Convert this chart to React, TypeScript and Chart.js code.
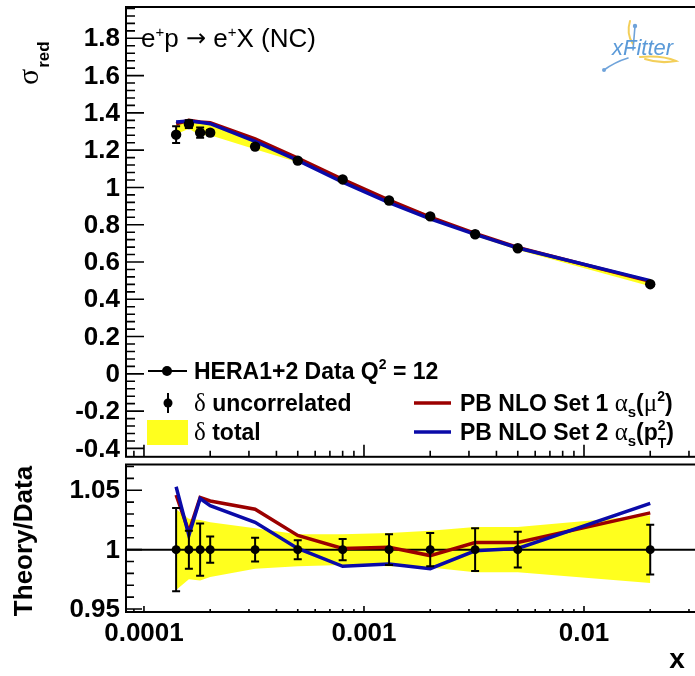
import React, { useEffect, useRef } from "react";
import { Chart, registerables } from "chart.js";

Chart.register(...registerables);

// ---------------- data ----------------
const xBins = [0.00014, 0.00016, 0.00018, 0.0002, 0.00032, 0.0005, 0.0008, 0.0013, 0.002, 0.0032, 0.005, 0.02];
const sigmaData = [1.283, 1.34, 1.294, 1.294, 1.219, 1.144, 1.043, 0.93, 0.845, 0.749, 0.674, 0.481];
const sigmaUncorr = [0.045, 0.021, 0.028, 0.014, 0.012, 0.009, 0.009, 0.012, 0.012, 0.013, 0.01, 0.01];
const sigmaTotalLow = [1.285, 1.315, 1.28, 1.28, 1.205, 1.135, 1.035, 0.92, 0.835, 0.74, 0.665, 0.47];
const sigmaTotalHigh = [1.34, 1.355, 1.345, 1.34, 1.255, 1.155, 1.05, 0.935, 0.85, 0.755, 0.68, 0.495];
const pbSet1 = [1.342, 1.36, 1.351, 1.347, 1.26, 1.158, 1.044, 0.932, 0.841, 0.753, 0.678, 0.496];
const pbSet2 = [1.351, 1.356, 1.35, 1.342, 1.247, 1.145, 1.028, 0.919, 0.831, 0.748, 0.675, 0.5];

const ratioData = [1, 1, 1, 1, 1, 1, 1, 1, 1, 1, 1, 1];
const ratioUncorr = [0.035, 0.016, 0.022, 0.011, 0.01, 0.008, 0.009, 0.013, 0.014, 0.018, 0.015, 0.021];
const ratioTotalLow = [0.966, 0.975, 0.974, 0.977, 0.984, 0.986, 0.987, 0.986, 0.985, 0.981, 0.981, 0.972];
const ratioTotalHigh = [1.034, 1.026, 1.025, 1.023, 1.018, 1.013, 1.013, 1.014, 1.016, 1.019, 1.019, 1.029];
const ratioSet1 = [1.046, 1.015, 1.044, 1.041, 1.034, 1.012, 1.001, 1.002, 0.995, 1.006, 1.006, 1.031];
const ratioSet2 = [1.053, 1.012, 1.043, 1.037, 1.023, 1.001, 0.986, 0.988, 0.984, 0.999, 1.001, 1.039];

const sigmaTicks = [-0.4, -0.2, 0, 0.2, 0.4, 0.6, 0.8, 1, 1.2, 1.4, 1.6, 1.8];
const sigmaTickLabels = ["-0.4", "-0.2", "0", "0.2", "0.4", "0.6", "0.8", "1", "1.2", "1.4", "1.6", "1.8"];
const ratioTicks = [0.95, 1, 1.05];
const ratioTickLabels = ["0.95", "1", "1.05"];
const xTicks = [0.0001, 0.001, 0.01];
const xTickLabels = ["0.0001", "0.001", "0.01"];

// ---------------- style ----------------
const YELLOW = "#ffff1e";
const RED = "#9b0000";
const BLUE = "#0a0aa8";
const SANS = '"Liberation Sans", Arial, Helvetica, sans-serif';
const SERIF = '"Liberation Serif", "Times New Roman", serif';

const X_MIN = 8.286e-5;
const X_MAX = 0.03367;

type Part = { t: string; f: string; dy?: number; noAdvance?: boolean };
function drawParts(ctx: CanvasRenderingContext2D, x: number, y: number, parts: Part[]) {
  let cx = x;
  for (const p of parts) {
    ctx.font = p.f;
    ctx.fillText(p.t, cx, y + (p.dy || 0));
    if (!p.noAdvance) cx += ctx.measureText(p.t).width;
  }
  return cx;
}

const pts = (ys: number[]) => xBins.map((x, i) => ({ x, y: ys[i] }));

function errorBarPlugin(ys: number[], errs: number[], cap: number) {
  return {
    id: "errorBars",
    afterDatasetsDraw(chart: any) {
      const { ctx } = chart;
      const xs = chart.scales.x;
      const y = chart.scales.y;
      ctx.save();
      ctx.strokeStyle = "#000";
      ctx.lineWidth = 2;
      ctx.beginPath();
      xBins.forEach((xv, i) => {
        const px = xs.getPixelForValue(xv);
        const yt = y.getPixelForValue(ys[i] + errs[i]);
        const yb = y.getPixelForValue(ys[i] - errs[i]);
        ctx.moveTo(px, yt);
        ctx.lineTo(px, yb);
        ctx.moveTo(px - cap, yt);
        ctx.lineTo(px + cap, yt);
        ctx.moveTo(px - cap, yb);
        ctx.lineTo(px + cap, yb);
      });
      ctx.stroke();
      ctx.restore();
    },
  };
}

type FrameOpts = {
  yMaj: number[];
  yLab: string[];
  yMinFrom: number;
  yMinStep: number;
  yMinN: number;
  yMajLen: number;
  yMinLen: number;
  xMajLen: number;
  xMinLen: number;
  extra?: (chart: any) => void;
};

function framePlugin(o: FrameOpts) {
  return {
    id: "rootFrame",
    afterDraw(chart: any) {
      const { ctx, chartArea: a } = chart;
      const xs = chart.scales.x;
      const ys = chart.scales.y;
      ctx.save();
      ctx.strokeStyle = "#000";
      ctx.lineWidth = 1.6;
      ctx.beginPath();
      for (let k = 0; k <= o.yMinN; k++) {
        const v = o.yMinFrom + k * o.yMinStep;
        const py = ys.getPixelForValue(v);
        if (py < a.top + 1 || py > a.bottom - 1) continue;
        const major = o.yMaj.some((m) => Math.abs(m - v) < 1e-6);
        ctx.moveTo(a.left, py);
        ctx.lineTo(a.left + (major ? o.yMajLen : o.yMinLen), py);
      }
      for (let d = -5; d <= -1; d++) {
        for (let m = 1; m <= 9; m++) {
          const v = m * Math.pow(10, d);
          const px = xs.getPixelForValue(v);
          if (px < a.left + 1 || px > a.right - 1) continue;
          ctx.moveTo(px, a.bottom);
          ctx.lineTo(px, a.bottom - (m === 1 ? o.xMajLen : o.xMinLen));
        }
      }
      ctx.stroke();
      ctx.lineWidth = 2;
      ctx.strokeRect(a.left, a.top, a.right - a.left, a.bottom - a.top);
      ctx.fillStyle = "#000";
      ctx.font = `bold 26px ${SANS}`;
      ctx.textAlign = "right";
      ctx.textBaseline = "middle";
      o.yMaj.forEach((v, i) => ctx.fillText(o.yLab[i], a.left - 6, ys.getPixelForValue(v) + 1));
      ctx.textAlign = "left";
      ctx.textBaseline = "alphabetic";
      if (o.extra) o.extra(chart);
      ctx.restore();
    },
  };
}

function topExtras(chart: any) {
  const ctx: CanvasRenderingContext2D = chart.ctx;
  ctx.fillStyle = "#000";
  // y-axis title sigma_red
  ctx.save();
  ctx.translate(38, 85);
  ctx.rotate(-Math.PI / 2);
  ctx.font = `30px ${SERIF}`;
  ctx.fillText("σ", 0, 0);
  const w = ctx.measureText("σ").width;
  ctx.font = `bold 17px ${SANS}`;
  ctx.fillText("red", w + 1, 11);
  ctx.restore();

  // process label
  drawParts(ctx, 141, 47, [
    { t: "e", f: `26px ${SANS}` },
    { t: "+", f: `15px ${SANS}`, dy: -10 },
    { t: "p ", f: `26px ${SANS}` },
    { t: "→", f: `24px "DejaVu Sans", sans-serif`, dy: -1 },
    { t: " e", f: `26px ${SANS}` },
    { t: "+", f: `15px ${SANS}`, dy: -10 },
    { t: "X (NC)", f: `26px ${SANS}` },
  ]);

  // xFitter logo
  ctx.save();
  ctx.lineCap = "round";
  ctx.strokeStyle = "#f3cf5a";
  ctx.lineWidth = 2;
  ctx.beginPath();
  ctx.moveTo(630, 21);
  ctx.quadraticCurveTo(626, 34, 633, 44);
  ctx.moveTo(640, 57);
  ctx.quadraticCurveTo(662, 55, 676, 61);
  ctx.quadraticCurveTo(660, 64, 645, 59);
  ctx.stroke();
  ctx.strokeStyle = "#6fa3da";
  ctx.lineWidth = 1.6;
  ctx.beginPath();
  ctx.moveTo(635, 26);
  ctx.lineTo(633, 50);
  ctx.moveTo(628, 58);
  ctx.quadraticCurveTo(615, 62, 604, 70);
  ctx.stroke();
  ctx.fillStyle = "#6fa3da";
  ctx.beginPath();
  ctx.arc(635, 26, 2.2, 0, Math.PI * 2);
  ctx.arc(604, 70, 2, 0, Math.PI * 2);
  ctx.fill();
  ctx.font = `italic 22px ${SANS}`;
  ctx.fillStyle = "#5b9ad8";
  ctx.fillText("xFitter", 612, 55);
  ctx.restore();

  // legend
  ctx.fillStyle = "#000";
  ctx.strokeStyle = "#000";
  ctx.lineWidth = 2;
  ctx.beginPath();
  ctx.moveTo(148, 371);
  ctx.lineTo(187, 371);
  ctx.moveTo(168, 393);
  ctx.lineTo(168, 413);
  ctx.stroke();
  ctx.beginPath();
  ctx.arc(167, 371, 5, 0, Math.PI * 2);
  ctx.fill();
  ctx.beginPath();
  ctx.arc(168, 403, 4.5, 0, Math.PI * 2);
  ctx.fill();
  ctx.fillStyle = YELLOW;
  ctx.fillRect(147, 420, 41, 25);
  ctx.lineWidth = 3.5;
  ctx.strokeStyle = RED;
  ctx.beginPath();
  ctx.moveTo(414, 403);
  ctx.lineTo(451, 403);
  ctx.stroke();
  ctx.strokeStyle = BLUE;
  ctx.beginPath();
  ctx.moveTo(414, 432);
  ctx.lineTo(451, 432);
  ctx.stroke();

  ctx.fillStyle = "#000";
  const B = `bold 23px ${SANS}`;
  const G = `25px ${SERIF}`;
  const SUP = `bold 14px ${SANS}`;
  drawParts(ctx, 194, 379, [
    { t: "HERA1+2 Data Q", f: B },
    { t: "2", f: SUP, dy: -10 },
    { t: " = 12", f: B },
  ]);
  drawParts(ctx, 194, 411, [
    { t: "δ", f: G },
    { t: " uncorrelated", f: B },
  ]);
  drawParts(ctx, 194, 440, [
    { t: "δ", f: G },
    { t: " total", f: B },
  ]);
  drawParts(ctx, 460, 411, [
    { t: "PB NLO Set 1 ", f: B },
    { t: "α", f: G },
    { t: "s", f: `bold 15px ${SANS}`, dy: 6 },
    { t: "(", f: B },
    { t: "μ", f: G },
    { t: "2", f: SUP, dy: -10 },
    { t: ")", f: B },
  ]);
  drawParts(ctx, 460, 440, [
    { t: "PB NLO Set 2 ", f: B },
    { t: "α", f: G },
    { t: "s", f: `bold 15px ${SANS}`, dy: 6 },
    { t: "(p", f: B },
    { t: "2", f: SUP, dy: -10, noAdvance: true },
    { t: "T", f: SUP, dy: 8 },
    { t: ")", f: B },
  ]);
}

function bottomExtras(chart: any) {
  const ctx: CanvasRenderingContext2D = chart.ctx;
  const xs = chart.scales.x;
  ctx.fillStyle = "#000";
  ctx.font = `bold 26px ${SANS}`;
  ctx.textAlign = "center";
  xTicks.forEach((v, i) => ctx.fillText(xTickLabels[i], xs.getPixelForValue(v), 181));
  ctx.font = `bold 28px ${SANS}`;
  ctx.fillText("x", 677, 208);
  ctx.save();
  ctx.translate(32, 81);
  ctx.rotate(-Math.PI / 2);
  ctx.font = `bold 26px ${SANS}`;
  ctx.fillText("Theory/Data", 0, 0);
  ctx.restore();
  ctx.textAlign = "left";
}

function baseOptions(yMin: number, yMax: number, padding: any) {
  return {
    responsive: false,
    maintainAspectRatio: false,
    animation: false as const,
    devicePixelRatio: 1,
    events: [] as any[],
    layout: { padding },
    plugins: { legend: { display: false }, tooltip: { enabled: false }, title: { display: false } },
    scales: {
      x: { type: "logarithmic" as const, min: X_MIN, max: X_MAX, display: false },
      y: { type: "linear" as const, min: yMin, max: yMax, display: false },
    },
  };
}

export default function App() {
  const topRef = useRef<HTMLCanvasElement | null>(null);
  const botRef = useRef<HTMLCanvasElement | null>(null);

  useEffect(() => {
    const hidden = { borderWidth: 0, borderColor: "transparent", pointRadius: 0 };
    const top = new Chart(topRef.current as HTMLCanvasElement, {
      type: "line",
      data: {
        datasets: [
          { label: "total hi", data: pts(sigmaTotalHigh), ...hidden, fill: false, order: 10 },
          { label: "δ total", data: pts(sigmaTotalLow), ...hidden, fill: "-1", backgroundColor: YELLOW, order: 9 },
          { label: "PB NLO Set 1", data: pts(pbSet1), borderColor: RED, borderWidth: 3.5, pointRadius: 0, fill: false, order: 3 },
          { label: "PB NLO Set 2", data: pts(pbSet2), borderColor: BLUE, borderWidth: 3.5, pointRadius: 0, fill: false, order: 2 },
          {
            label: "HERA1+2 Data",
            data: pts(sigmaData),
            showLine: false,
            pointRadius: 5.2,
            pointBackgroundColor: "#000",
            pointBorderColor: "#000",
            pointBorderWidth: 0,
            order: 0,
          },
        ],
      } as any,
      options: baseOptions(-0.445, 1.968, { left: 126, right: 10, top: 7, bottom: 4 }) as any,
      plugins: [
        errorBarPlugin(sigmaData, sigmaUncorr, 4),
        framePlugin({
          yMaj: sigmaTicks,
          yLab: sigmaTickLabels,
          yMinFrom: -0.44,
          yMinStep: 0.04,
          yMinN: 60,
          yMajLen: 18,
          yMinLen: 9,
          xMajLen: 12,
          xMinLen: 6,
          extra: topExtras,
        }),
      ] as any,
    });

    const bot = new Chart(botRef.current as HTMLCanvasElement, {
      type: "line",
      data: {
        datasets: [
          { label: "total hi", data: pts(ratioTotalHigh), ...hidden, fill: false, order: 10 },
          { label: "δ total", data: pts(ratioTotalLow), ...hidden, fill: "-1", backgroundColor: YELLOW, order: 9 },
          {
            label: "unity",
            data: [
              { x: X_MIN, y: 1 },
              { x: X_MAX, y: 1 },
            ],
            borderColor: "#000",
            borderWidth: 2,
            pointRadius: 0,
            fill: false,
            order: 5,
          },
          { label: "PB NLO Set 1", data: pts(ratioSet1), borderColor: RED, borderWidth: 3.5, pointRadius: 0, fill: false, order: 3 },
          { label: "PB NLO Set 2", data: pts(ratioSet2), borderColor: BLUE, borderWidth: 3.5, pointRadius: 0, fill: false, order: 2 },
          {
            label: "Data",
            data: pts(ratioData),
            showLine: false,
            pointRadius: 4.5,
            pointBackgroundColor: "#000",
            pointBorderColor: "#000",
            pointBorderWidth: 0,
            order: 0,
          },
        ],
      } as any,
      options: baseOptions(0.9475, 1.0717, { left: 126, right: 10, top: 3, bottom: 64 }) as any,
      plugins: [
        errorBarPlugin(ratioData, ratioUncorr, 4),
        framePlugin({
          yMaj: ratioTicks,
          yLab: ratioTickLabels,
          yMinFrom: 0.95,
          yMinStep: 0.01,
          yMinN: 12,
          yMajLen: 16,
          yMinLen: 8,
          xMajLen: 6,
          xMinLen: 3,
          extra: bottomExtras,
        }),
      ] as any,
    });

    return () => {
      top.destroy();
      bot.destroy();
    };
  }, []);

  return (
    <div
      style={{
        position: "fixed",
        left: 0,
        top: 0,
        width: 695,
        height: 676,
        overflow: "hidden",
        background: "#fff",
      }}
    >
      <canvas
        ref={topRef}
        width={710}
        height={462}
        style={{ position: "absolute", left: 0, top: 0, width: 710, height: 462 }}
      />
      <canvas
        ref={botRef}
        width={710}
        height={216}
        style={{ position: "absolute", left: 0, top: 460, width: 710, height: 216, background: "#fff" }}
      />
    </div>
  );
}
